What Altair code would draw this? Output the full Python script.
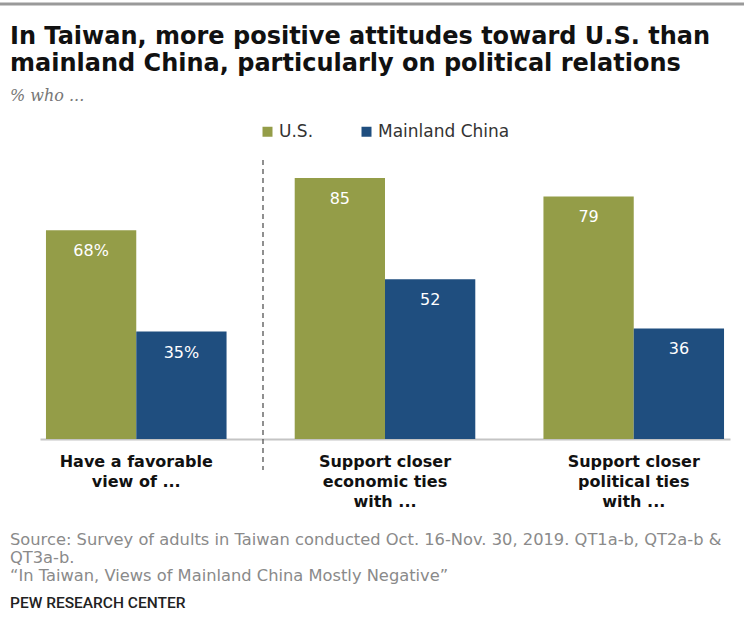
import altair as alt
import pandas as pd

# ---- data ----
CATEGORIES = [
    "Have a favorable|view of ...",
    "Support closer|economic ties|with ...",
    "Support closer|political ties|with ...",
]
SERIES = ["U.S.", "Mainland China"]
US_VALUES = [68, 85, 79]
CHINA_VALUES = [35, 52, 36]
US_LABELS = ["68%", "85", "79"]
CHINA_LABELS = ["35%", "52", "36"]
COLORS = ["#949D48", "#1F4E7F"]

TITLE_LINES = [
    "In Taiwan, more positive attitudes toward U.S. than",
    "mainland China, particularly on political relations",
]
SUBTITLE = "% who ..."
SOURCE_LINES = [
    "Source: Survey of adults in Taiwan conducted Oct. 16-Nov. 30, 2019. QT1a-b, QT2a-b &",
    "QT3a-b.",
    "\u201cIn Taiwan, Views of Mainland China Mostly Negative\u201d",
]
CREDIT = "PEW RESEARCH CENTER"

rows = []
for i, cat in enumerate(CATEGORIES):
    rows.append({"category": cat, "series": SERIES[0], "value": US_VALUES[i], "label": US_LABELS[i]})
    rows.append({"category": cat, "series": SERIES[1], "value": CHINA_VALUES[i], "label": CHINA_LABELS[i]})
df = pd.DataFrame(rows)
one = pd.DataFrame({"k": [0]})

FONT = "DejaVu Sans"

x_enc = alt.X(
    "category:N",
    sort=CATEGORIES,
    scale=alt.Scale(paddingInner=0.274, paddingOuter=0.024),
    axis=alt.Axis(
        title=None,
        labelExpr="split(datum.label, '|')",
        labelAngle=0,
        labelFont=FONT,
        labelFontSize=16,
        labelFontWeight="bold",
        labelColor="#111111",
        labelLineHeight=20,
        labelPadding=14,
        ticks=False,
        domainColor="#c4c4c4",
        domainWidth=2,
        grid=False,
    ),
)
xoff = alt.XOffset("series:N", sort=SERIES, scale=alt.Scale(paddingInner=0, paddingOuter=0))
y_enc = alt.Y("value:Q", scale=alt.Scale(domain=[0, 100]), axis=None)

bars = alt.Chart(df).mark_bar().encode(
    x=x_enc,
    xOffset=xoff,
    y=y_enc,
    color=alt.Color(
        "series:N",
        sort=SERIES,
        scale=alt.Scale(domain=SERIES, range=COLORS),
        legend=alt.Legend(
            title=None,
            orient="none",
            legendX=219,
            legendY=-9,
            direction="horizontal",
            symbolType="square",
            symbolSize=100,
            symbolStrokeWidth=0,
            labelFont=FONT,
            labelFontSize=17,
            labelColor="#333333",
            labelOffset=3,
            columnPadding=44,
            padding=0,
        ),
    ),
)

values = alt.Chart(df).mark_text(
    baseline="middle", dy=21, color="white", fontSize=16, font=FONT
).encode(x=x_enc, xOffset=xoff, y=y_enc, text="label:N")

sep = alt.Chart(one).mark_rule(color="#555555", strokeDash=[5, 4], strokeWidth=1.3).encode(
    x=alt.value(223), y=alt.value(28), y2=alt.value(338)
)

topline = alt.Chart(one).mark_rule(color="#9a9a9a", strokeWidth=3).encode(
    x=alt.value(-40), x2=alt.value(704), y=alt.value(-128)
)

title = alt.Chart(one).mark_text(
    text=TITLE_LINES, align="left", baseline="alphabetic", font=FONT,
    fontSize=24, fontWeight="bold", color="#111111", lineHeight=27,
).encode(x=alt.value(-30), y=alt.value(-88))

subtitle = alt.Chart(one).mark_text(
    text=SUBTITLE, align="left", baseline="alphabetic", font="DejaVu Serif",
    fontSize=16, fontStyle="italic", color="#777777",
).encode(x=alt.value(-30), y=alt.value(-31))

source = alt.Chart(one).mark_text(
    text=SOURCE_LINES, align="left", baseline="alphabetic", font=FONT,
    fontSize=16.3, color="#8a8a8a", lineHeight=18,
).encode(x=alt.value(-30), y=alt.value(413))

credit = alt.Chart(one).mark_text(
    text=CREDIT, align="left", baseline="alphabetic", font="Roboto",
    fontSize=15.5, fontWeight=500, color="#222222",
).encode(x=alt.value(-30), y=alt.value(476))

chart = alt.layer(bars, values, sep, topline, title, subtitle, source, credit).properties(
    width=690,
    height=307,
    background="white",
    autosize=alt.AutoSizeParams(type="none"),
    padding={"left": 40, "top": 132, "right": 14, "bottom": 189},
).configure_view(strokeWidth=0, stroke=None)

chart.save("out.html", embed_options={"renderer": "svg", "actions": False})
